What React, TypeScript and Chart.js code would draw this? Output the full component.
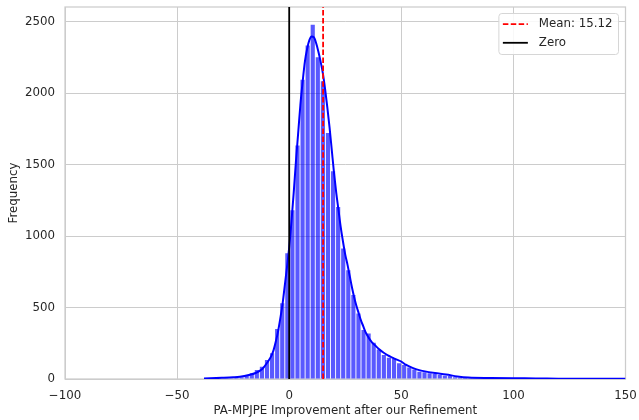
import React, { useEffect, useRef } from 'react';
import { Chart, registerables } from 'chart.js';

Chart.register(...registerables);

// ---- Data ----
const BIN_START = -38.22;
const BIN_WIDTH = 2.266;
const COUNTS = [
  2, 2, 3, 4, 5, 6, 8, 12, 21, 40, 63, 86, 133, 180, 350, 530, 880,
  1180, 1634, 2093, 2332, 2478, 2250, 2083, 1720, 1454, 1203, 913, 761, 587, 459, 342,
  319, 254, 207, 168, 149, 144, 110, 98, 81, 67, 51, 47, 40, 35, 28, 23, 21, 12, 8, 7,
  6, 5, 4, 4, 3, 3, 3, 2, 2, 2, 2, 2, 1, 2, 1, 1, 1, 1, 1, 1, 0, 1, 1, 0, 1, 0, 0, 1, 0, 0, 1,
];
const KDE_X = [
  -38, -30, -25, -22, -18, -15, -12, -10, -8, -7, -6, -5, -4, -3, -2, -1, 0, 1, 2, 3, 4, 5, 6, 7, 8, 9,
  10, 11, 12, 13, 14, 15, 16, 17, 18, 19, 20, 21, 22, 23, 24, 25, 26, 27, 28, 29, 30, 31, 32, 33, 34,
  35, 36, 37, 38, 40, 42, 44, 46, 48, 50, 52, 55, 58, 60, 65, 70, 75, 80, 90, 100, 110, 120, 130, 150,
];
const KDE_Y = [
  3, 8, 12, 16, 28, 42, 70, 110, 160, 200, 260, 330, 420, 520, 650, 780, 920, 1100, 1300, 1520, 1720,
  1920, 2080, 2220, 2310, 2370, 2395, 2390, 2350, 2290, 2220, 2140, 2030, 1900, 1760, 1600, 1440, 1300,
  1180, 1060, 960, 870, 800, 720, 640, 570, 510, 460, 410, 370, 330, 300, 275, 255, 240, 210, 185, 165,
  150, 135, 122, 100, 78, 62, 55, 42, 32, 18, 10, 7, 5, 4, 2, 1, 1,
];
const MEAN = 15.12;
const ZERO = 0;
const X_TICKS = [-100, -50, 0, 50, 100, 150];
const Y_TICKS = [0, 500, 1000, 1500, 2000, 2500];
const X_MIN = -100;
const X_MAX = 150;
const Y_MAX = 2602;
const X_LABEL = 'PA-MPJPE Improvement after our Refinement';
const Y_LABEL = 'Frequency';
const MEAN_LABEL = 'Mean: ' + MEAN.toFixed(2);
const ZERO_LABEL = 'Zero';

const FONT = '"DejaVu Sans", sans-serif';
const TEXT = '#262626';
const GRID = '#cccccc';

const fmt = (v: number) => (v < 0 ? '\u2212' + Math.abs(v) : String(v));

const zeroPad = (s: any) => {
  s.paddingTop = 0;
  s.paddingBottom = 0;
  s.paddingLeft = 0;
  s.paddingRight = 0;
};

const frameAndLegend = {
  id: 'frameAndLegend',
  beforeDatasetsDraw(chart: any) {
    const { ctx, chartArea: a } = chart;
    ctx.save();
    ctx.strokeStyle = GRID;
    ctx.lineWidth = 1.25;
    ctx.strokeRect(a.left, a.top, a.right - a.left, a.bottom - a.top);
    ctx.restore();
  },
  afterDraw(chart: any) {
    const { ctx, chartArea: a } = chart;
    const items = chart.data.datasets
      .filter((d: any) => d.legendRank !== undefined)
      .sort((p: any, q: any) => p.legendRank - q.legendRank);
    ctx.save();
    ctx.font = `11.8px ${FONT}`;
    const tw = Math.max(...items.map((d: any) => ctx.measureText(d.label).width));
    const right = a.right - 7;
    const top = a.top + 6.5;
    const w = 40 + tw + 6;
    const left = right - w;
    const h = 41;
    const r = 3;
    ctx.beginPath();
    ctx.moveTo(left + r, top);
    ctx.lineTo(right - r, top);
    ctx.quadraticCurveTo(right, top, right, top + r);
    ctx.lineTo(right, top + h - r);
    ctx.quadraticCurveTo(right, top + h, right - r, top + h);
    ctx.lineTo(left + r, top + h);
    ctx.quadraticCurveTo(left, top + h, left, top + h - r);
    ctx.lineTo(left, top + r);
    ctx.quadraticCurveTo(left, top, left + r, top);
    ctx.closePath();
    ctx.fillStyle = 'rgba(255,255,255,0.85)';
    ctx.fill();
    ctx.strokeStyle = '#d6d6d6';
    ctx.lineWidth = 1;
    ctx.stroke();
    items.forEach((d: any, i: number) => {
      const cy = top + 10.7 + i * 18.6;
      ctx.beginPath();
      ctx.setLineDash(d.borderDash || []);
      ctx.strokeStyle = d.borderColor;
      ctx.lineWidth = d.borderWidth;
      ctx.moveTo(left + 4, cy);
      ctx.lineTo(left + 29, cy);
      ctx.stroke();
      ctx.setLineDash([]);
      ctx.fillStyle = TEXT;
      ctx.textBaseline = 'middle';
      ctx.textAlign = 'left';
      ctx.fillText(d.label, left + 40, cy);
    });
    ctx.restore();
  },
};

export default function App() {
  const ref = useRef<HTMLCanvasElement | null>(null);

  useEffect(() => {
    document.body.style.margin = '0';
    const canvas = ref.current;
    if (!canvas) return;
    const bars = COUNTS.map((c, i) => ({ x: BIN_START + (i + 0.5) * BIN_WIDTH, y: c }));
    const kde = KDE_X.map((x, i) => ({ x, y: KDE_Y[i] }));
    const chart = new Chart(canvas, {
      type: 'bar',
      data: {
        datasets: [
          {
            type: 'line',
            label: ZERO_LABEL,
            legendRank: 2,
            data: [{ x: ZERO, y: 0 }, { x: ZERO, y: Y_MAX }],
            borderColor: '#000000',
            borderWidth: 1.8,
            pointRadius: 0,
            order: 1,
          } as any,
          {
            type: 'line',
            label: MEAN_LABEL,
            legendRank: 1,
            data: [{ x: MEAN, y: 0 }, { x: MEAN, y: Y_MAX }],
            borderColor: '#ff0000',
            borderDash: [5.5, 2.4],
            borderWidth: 1.8,
            pointRadius: 0,
            order: 2,
          } as any,
          {
            type: 'line',
            label: 'KDE',
            data: kde,
            borderColor: '#0000ff',
            borderWidth: 2,
            pointRadius: 0,
            cubicInterpolationMode: 'monotone',
            fill: false,
            order: 3,
          } as any,
          {
            type: 'bar',
            label: 'Histogram',
            data: bars,
            backgroundColor: 'rgba(0,0,255,0.65)',
            borderWidth: 0,
            barPercentage: 0.82,
            categoryPercentage: 1,
            order: 4,
          } as any,
        ],
      },
      options: {
        animation: false,
        responsive: false,
        devicePixelRatio: 1,
        layout: { padding: { top: 7, right: 13.5, left: 0, bottom: 0 } },
        plugins: { legend: { display: false }, tooltip: { enabled: false } },
        scales: {
          x: {
            type: 'linear',
            min: X_MIN,
            max: X_MAX,
            offset: false,
            afterBuildTicks: (s: any) => {
              s.ticks = X_TICKS.map((v) => ({ value: v }));
            },
            afterFit: (s: any) => {
              s.height = 41;
              zeroPad(s);
            },
            ticks: {
              padding: 10,
              color: TEXT,
              font: { family: FONT, size: 11.8 },
              maxRotation: 0,
              autoSkip: false,
              callback: (v: any) => fmt(Number(v)),
            },
            grid: { color: GRID, lineWidth: 1, drawTicks: false, offset: false },
            border: { display: false },
            title: {
              display: true,
              text: X_LABEL,
              color: TEXT,
              font: { family: FONT, size: 11.8 },
              padding: { top: 0, bottom: 2 },
            },
          },
          y: {
            type: 'linear',
            min: 0,
            max: Y_MAX,
            afterBuildTicks: (s: any) => {
              s.ticks = Y_TICKS.map((v) => ({ value: v }));
            },
            afterFit: (s: any) => {
              s.width = 65;
              zeroPad(s);
            },
            ticks: {
              padding: 10,
              color: TEXT,
              font: { family: FONT, size: 11.8 },
              callback: (v: any) => fmt(Number(v)),
            },
            grid: { color: GRID, lineWidth: 1, drawTicks: false },
            border: { display: false },
            title: {
              display: true,
              text: Y_LABEL,
              color: TEXT,
              font: { family: FONT, size: 11.8 },
              padding: { top: 7, bottom: 0 },
            },
          },
        },
      } as any,
      plugins: [frameAndLegend],
    });
    return () => chart.destroy();
  }, []);

  return (
    <div style={{ position: 'fixed', left: 0, top: 0, width: 639, height: 420, background: '#fff' }}>
      <canvas ref={ref} width={639} height={420} style={{ width: 639, height: 420 }} />
    </div>
  );
}
